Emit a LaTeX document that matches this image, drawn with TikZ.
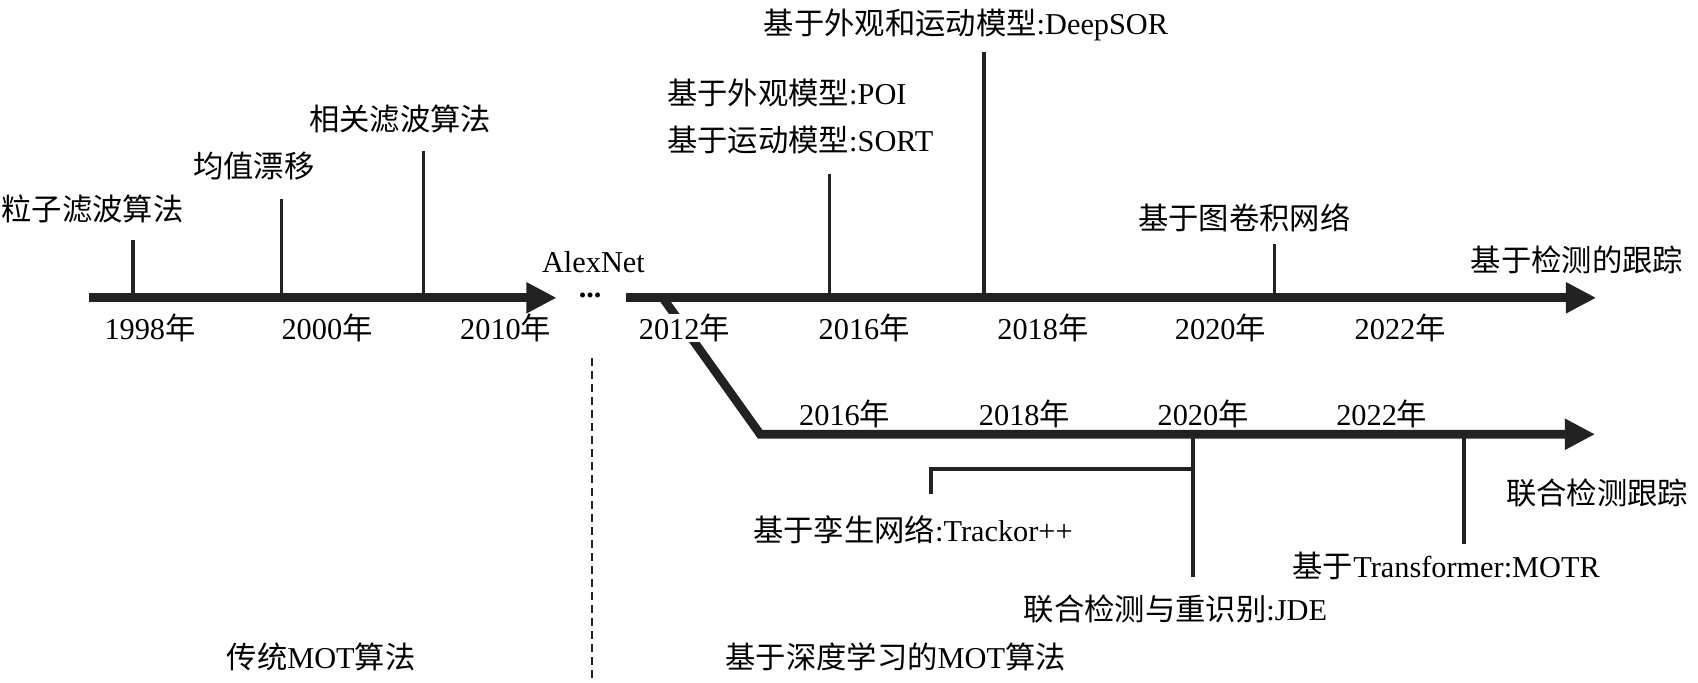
\documentclass[tikz,border=0pt]{standalone}
\usepackage{fontspec}
\setmainfont{Liberation Serif}
\newfontfamily\cjk{Noto Sans CJK SC}
\usetikzlibrary{arrows.meta}
\newcommand\zhtext[1]{{\cjk #1}}
\definecolor{axiscol}{HTML}{222222}
\begin{document}
\begin{tikzpicture}[x=1pt,y=-1pt,
  axis/.style={line width=8pt, draw=axiscol, line join=miter, -{Triangle[length=28pt,width=27pt]}},
  tickline/.style={line width=3.5pt, draw=axiscol},
  lbl/.style={font=\fontsize{28}{30}\selectfont, inner sep=0pt, text=black},
  yr/.style={lbl, fill=white},
]
\useasboundingbox (0,0) rectangle (1568,630);

% ---------- axes ----------
\coordinate (L0) at (82,275);  \coordinate (L1) at (514,275);
\coordinate (R0) at (578,275); \coordinate (R1) at (1474,275);
\coordinate (B0) at (612,275); \coordinate (B1) at (702,401); \coordinate (B2) at (1473,401);
\draw[axis] (L0) -- (L1);
\draw[axis] (R0) -- (R1);
\draw[axis] (B0) -- (B1) -- (B2);

% ---------- upper ticks ----------
\coordinate (t1a) at (123,275);  \coordinate (t1b) at (123,222);
\coordinate (t2a) at (260,275);  \coordinate (t2b) at (260,184);
\coordinate (t3a) at (391,275);  \coordinate (t3b) at (391,139);
\coordinate (t4a) at (766,275);  \coordinate (t4b) at (766,161);
\coordinate (t5a) at (909,275);  \coordinate (t5b) at (909,48);
\coordinate (t6a) at (1177,275); \coordinate (t6b) at (1177,225);
\foreach \i in {1,...,6} {\draw[tickline] (t\i a) -- (t\i b);}

% ---------- lower ticks ----------
\coordinate (j0) at (1102,401); \coordinate (j1) at (1102,533);
\coordinate (k0) at (1102,433); \coordinate (k1) at (860,433); \coordinate (k2) at (860,456);
\coordinate (m0) at (1352,401); \coordinate (m1) at (1352,502);
\draw[tickline] (j0) -- (j1);
\draw[tickline] (k0) -- (k1) -- (k2);
\draw[tickline] (m0) -- (m1);

% ---------- separator ----------
\coordinate (d0) at (547,331); \coordinate (d1) at (547,630);
\draw[line width=2pt, draw=axiscol, dash pattern=on 7pt off 5pt] (d0) -- (d1);

% ---------- labels: traditional ----------
\node[lbl] (pf) at (85.5,193) {\zhtext{粒子滤波算法}};
\node[lbl] (ms) at (234.5,153) {\zhtext{均值漂移}};
\node[lbl] (cf) at (369.5,110) {\zhtext{相关滤波算法}};
\node[yr] (y1998) at (138.5,303) {1998\zhtext{年}};
\node[yr] (y2000) at (302,303) {2000\zhtext{年}};
\node[yr] (y2010) at (467,303) {2010\zhtext{年}};
\node[lbl] (alex) at (548,242) {AlexNet};
\node[lbl] (dots) at (545,273) {\textbf{...}};

% ---------- labels: detection-based ----------
\node[yr] (y2012) at (632,303) {2012\zhtext{年}};
\node[yr] (u2016) at (798,303) {2016\zhtext{年}};
\node[yr] (u2018) at (963,303) {2018\zhtext{年}};
\node[yr] (u2020) at (1127,303) {2020\zhtext{年}};
\node[yr] (u2022) at (1293,303) {2022\zhtext{年}};
\node[lbl, anchor=west] (poi) at (616,86) {\zhtext{基于外观模型}:POI};
\node[lbl, anchor=west] (sort) at (616,129) {\zhtext{基于运动模型}:SORT};
\node[lbl] (dsor) at (892,23) {\zhtext{基于外观和运动模型}:DeepSOR};
\node[lbl] (gcn) at (1149,201) {\zhtext{基于图卷积网络}};
\node[lbl, anchor=west] (dbt) at (1358,240) {\zhtext{基于检测的跟踪}};

% ---------- labels: joint detection ----------
\node[yr] (l2016) at (780,382) {2016\zhtext{年}};
\node[yr] (l2018) at (946,382) {2018\zhtext{年}};
\node[yr] (l2020) at (1111,382) {2020\zhtext{年}};
\node[yr] (l2022) at (1276,382) {2022\zhtext{年}};
\node[lbl] (trk) at (843,489) {\zhtext{基于孪生网络}:Trackor++};
\node[lbl] (jde) at (1085.5,562) {\zhtext{联合检测与重识别}:JDE};
\node[lbl] (motr) at (1335.5,523) {\zhtext{基于}Transformer:MOTR};
\node[lbl] (jdt) at (1475,455) {\zhtext{联合检测跟踪}};

% ---------- bottom captions ----------
\node[lbl] (trad) at (296.5,607) {\zhtext{传统}MOT\zhtext{算法}};
\node[lbl] (deep) at (827,607) {\zhtext{基于深度学习的}MOT\zhtext{算法}};
\end{tikzpicture}
\end{document}
